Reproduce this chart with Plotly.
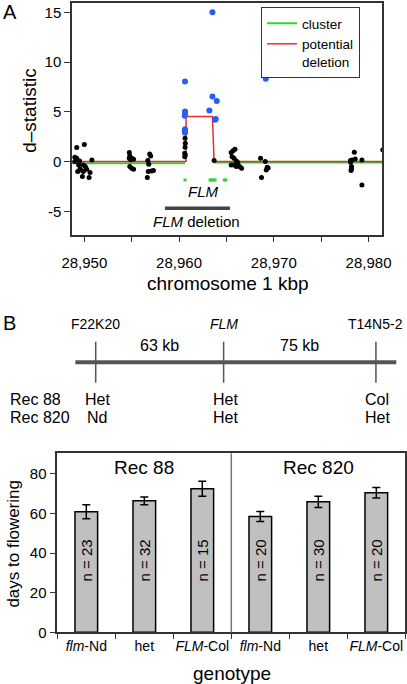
import plotly.graph_objects as go

# ---------------- Panel A data ----------------
black_x = [28949.2, 28950.0, 28949.0, 28949.2, 28949.0, 28949.5, 28949.4, 28949.9, 28950.1, 28950.8,
           28949.3, 28949.6, 28949.9, 28950.25, 28950.6, 28949.8, 28950.5, 28949.55,
           28954.75, 28954.8, 28955.0, 28954.75, 28955.2, 28954.8, 28955.2, 28955.0, 28954.9,
           28956.9, 28957.0, 28956.7, 28956.8, 28957.1, 28956.75, 28956.65, 28957.3,
           28960.63, 28960.66, 28960.63, 28960.6, 28960.66, 28960.6,
           28963.7,
           28965.9, 28965.7, 28965.5, 28965.6, 28965.8, 28966.05, 28966.2, 28965.8, 28966.4, 28966.05, 28966.6, 28965.5,
           28968.6, 28969.3, 28969.2, 28968.7, 28969.1, 28969.4,
           28978.5, 28978.6, 28978.25, 28978.1, 28978.2, 28978.2, 28978.15, 28979.3, 28979.3, 28978.1,
           28981.5]
black_y = [1.41, 1.71, 0.44, 0.34, 0.02, 0.05, -0.33, -0.33, -0.5, 0.17,
           -1.0, -0.84, -1.0, -0.77, -1.1, -1.5, -1.6, -0.75,
           0.91, 0.57, 0.34, 0.34, 0.24, -0.5, -0.77, -0.67, 0.2,
           0.77, 0.57, 0.1, -0.27, -0.94, -1.0, -1.6, -0.9,
           2.35, 1.85, 1.45, 0.84, 0.67, 0.5,
           0.1,
           1.25, 1.08, 0.91, 0.5, 0.34, 0.07, -0.1, -0.33, -0.5, -0.5, -0.67, -0.35,
           0.34, -0.57, -0.84, -1.6, 0.0, -0.65,
           0.94, 0.27, 0.17, -0.06, -0.5, -0.77, -0.9, 0.17, -2.34, 0.1,
           1.18]

blue_x = [28960.63, 28960.63, 28960.63, 28960.6, 28960.63, 28960.6, 28960.63,
          28963.52, 28963.52, 28963.98, 28963.2, 28963.87, 28963.8, 28969.15]
blue_y = [8.05, 5.03, 4.8, 4.6, 3.26, 3.1, 2.9,
          15.0, 6.54, 6.1, 5.13, 4.27, 4.2, 8.32]

deletion_x = [28948.7, 28960.74, 28960.74, 28963.52, 28963.7, 28981.42]
deletion_y = [0.0, 0.0, 4.53, 4.53, 0.0, 0.0]

cluster_x = [28948.7, 28960.63, None, 28963.7, 28981.42]
cluster_y = [-0.17, -0.17, None, -0.1, -0.1]

exon_x = [28960.63, 28963.27, 28963.45, 28963.62, 28963.8, 28964.78, 28964.93]
exon_y = [-1.84] * len(exon_x)

flm_del_x = [28958.51, 28965.37]
flm_del_y = [-4.69, -4.69]

x_ticks_a = [28950, 28960, 28970, 28980]
x_ticklabels_a = ["28,950", "28,960", "28,970", "28,980"]
y_ticks_a = [-5, 0, 5, 10, 15]
y_ticklabels_a = ["-5", "0", "5", "10", "15"]

# ---------------- Panel B map data ----------------
marker_names = ["F22K20", "<i>FLM</i>", "T14N5-2"]
marker_pos = [0, 63, 138]
interval_labels = ["63 kb", "75 kb"]
rec_names = ["Rec 88", "Rec 820"]
rec_genotypes = [["Het", "Het", "Col"], ["Nd", "Het", "Het"]]

# ---------------- Panel B bar data ----------------
bar_labels = ["<i>flm</i>-Nd", "het", "<i>FLM</i>-Col", "<i>flm</i>-Nd", "het", "<i>FLM</i>-Col"]
days = [60.8, 66.3, 72.4, 58.4, 65.8, 70.4]
days_err = [3.5, 2.0, 3.8, 2.5, 2.8, 2.6]
n_counts = [23, 32, 15, 20, 30, 20]
group_names = ["Rec 88", "Rec 820"]

FONT = "Liberation Sans, Arial, Helvetica, sans-serif"
AX = "#333333"
W, H = 407, 684

def px(xp):
    return xp / W

def py(yp):
    return 1 - yp / H

fig = go.Figure()

# Panel A traces
fig.add_trace(go.Scatter(x=cluster_x, y=cluster_y, mode="lines", name="cluster",
                         line=dict(color="#2fd62f", width=2), xaxis="x", yaxis="y"))
fig.add_trace(go.Scatter(x=deletion_x, y=deletion_y, mode="lines", name="potential<br>deletion",
                         line=dict(color="#ec2a30", width=1.5), xaxis="x", yaxis="y"))
fig.add_trace(go.Scatter(x=black_x, y=black_y, mode="markers", showlegend=False,
                         marker=dict(color="black", size=5), xaxis="x", yaxis="y"))
fig.add_trace(go.Scatter(x=blue_x, y=blue_y, mode="markers", showlegend=False,
                         marker=dict(color="#2a5cf0", size=6), xaxis="x", yaxis="y"))
fig.add_trace(go.Scatter(x=exon_x, y=exon_y, mode="markers", showlegend=False,
                         marker=dict(color="#2fd62f", size=3, symbol="square"), xaxis="x", yaxis="y"))
fig.add_trace(go.Scatter(x=flm_del_x, y=flm_del_y, mode="lines", showlegend=False,
                         line=dict(color="#444444", width=3.5), xaxis="x", yaxis="y"))

# Panel B map (hidden axes x3/y3)
line_x = [marker_pos[0] - 10, marker_pos[-1] + 10]
fig.add_trace(go.Scatter(x=line_x, y=[57.3, 57.3], mode="lines", showlegend=False,
                         line=dict(color="#555555", width=4), xaxis="x3", yaxis="y3"))
tx, ty = [], []
for p in marker_pos:
    tx += [p, p, None]
    ty += [36.7, 77.7, None]
fig.add_trace(go.Scatter(x=tx, y=ty, mode="lines", showlegend=False,
                         line=dict(color="#555555", width=1.5), xaxis="x3", yaxis="y3"))

# Panel B bars
fig.add_trace(go.Bar(x=list(range(len(days))), y=days, width=0.39, showlegend=False,
                     marker=dict(color="#c0c0c0", line=dict(color="black", width=1.5)),
                     error_y=dict(type="data", array=days_err, color="black", thickness=1.5, width=4),
                     xaxis="x2", yaxis="y2"))

C = dict(xanchor="center", yanchor="middle", showarrow=False)
ann = []
# Panel letters
ann.append(dict(text="A", x=px(10), y=py(12.5), xref="paper", yref="paper",
                font=dict(size=20, color="black"), **C))
ann.append(dict(text="B", x=px(9.2), y=py(323.3), xref="paper", yref="paper",
                font=dict(size=20, color="black"), **C))
# Panel A titles
ann.append(dict(text="d–statistic", x=px(30), y=py(110.8), xref="paper", yref="paper",
                textangle=-90, font=dict(size=19, color="black"), **C))
ann.append(dict(text="chromosome 1 kbp", x=px(228.3), y=py(283.3), xref="paper", yref="paper",
                font=dict(size=19, color="black"), **C))
ann.append(dict(text="<i>FLM</i>", x=28962.6, y=-3.0, xref="x", yref="y",
                font=dict(size=15, color="black"), **C))
ann.append(dict(text="<i>FLM</i> deletion", x=28961.8, y=-6.0, xref="x", yref="y",
                font=dict(size=15, color="black"), **C))
# Map labels
for name, p in zip(marker_names, marker_pos):
    ann.append(dict(text=name, x=p, y=19.3, xref="x3", yref="y3",
                    font=dict(size=14, color="black"), **C))
for i, lab in enumerate(interval_labels):
    ann.append(dict(text=lab, x=(marker_pos[i] + marker_pos[i + 1]) / 2, y=40, xref="x3", yref="y3",
                    font=dict(size=16, color="black"), **C))
row_y = [94, 112.3]
for r, (rn, gts) in enumerate(zip(rec_names, rec_genotypes)):
    ann.append(dict(text=rn, x=px(8.3), y=row_y[r], xref="paper", yref="y3", xanchor="left",
                    yanchor="middle", showarrow=False, font=dict(size=16, color="black")))
    for g, p in zip(gts, marker_pos):
        ann.append(dict(text=g, x=p + 0.7, y=row_y[r], xref="x3", yref="y3",
                        font=dict(size=16, color="black"), **C))
# Bar panel labels
for i, n in enumerate(n_counts):
    ann.append(dict(text=f"n = {n}", x=i, y=36.4, xref="x2", yref="y2",
                    textangle=-90, font=dict(size=15, color="black"), **C))
for gi, gname in enumerate(group_names):
    ann.append(dict(text=gname, x=gi * 3 + 1, y=82.9, xref="x2", yref="y2",
                    font=dict(size=19, color="black"), **C))
ann.append(dict(text="days to flowering", x=px(13.3), y=py(543.3), xref="paper", yref="paper",
                textangle=-90, font=dict(size=17, color="black"), **C))
ann.append(dict(text="genotype", x=px(232.3), y=py(673.3), xref="paper", yref="paper",
                font=dict(size=19, color="black"), **C))

shapes = [dict(type="line", xref="x2", yref="y2 domain", x0=2.5, x1=2.5, y0=0, y1=1,
               line=dict(color="#777777", width=1.5))]

fig.update_layout(
    template="none",
    width=W, height=H, margin=dict(l=0, r=0, t=0, b=0, pad=0, autoexpand=False),
    paper_bgcolor="white", plot_bgcolor="white",
    font=dict(family=FONT, color="black"),
    showlegend=True,
    legend=dict(x=px(261), y=py(7), xanchor="left", yanchor="top", bgcolor="white",
                bordercolor=AX, borderwidth=1, font=dict(size=13.5), valign="top",
                itemwidth=30, tracegroupgap=0),
    xaxis=dict(domain=[px(72), px(382)], range=[28948.7, 28981.42], showgrid=False, zeroline=False,
               automargin=False,
               showline=True, mirror=True, linecolor=AX, linewidth=1.5,
               tickvals=x_ticks_a, ticktext=x_ticklabels_a, ticks="outside", ticklen=5,
               tickwidth=1, tickcolor=AX, tickfont=dict(size=15),
               minor=dict(dtick=5, tick0=28950, ticks="outside", ticklen=5, tickwidth=1, tickcolor=AX),
               ticklabelstandoff=8, anchor="y"),
    yaxis=dict(domain=[py(235), py(3.3)], range=[-7.37, 15.9], showgrid=False, zeroline=False,
               automargin=False,
               showline=True, mirror=True, linecolor=AX, linewidth=1.5,
               tickvals=y_ticks_a, ticktext=y_ticklabels_a, ticks="outside", ticklen=6,
               tickwidth=1, tickcolor=AX, tickfont=dict(size=15), anchor="x"),
    xaxis2=dict(domain=[px(57.3), px(405.3)], range=[-0.5, 5.5], showgrid=False, zeroline=False,
                automargin=False,
                showline=True, mirror=True, linecolor=AX, linewidth=1.5,
                tickvals=list(range(len(bar_labels))), ticktext=bar_labels, ticks="",
                tickfont=dict(size=14),
                minor=dict(tick0=0.5, dtick=1, ticks="outside", ticklen=5, tickwidth=1, tickcolor=AX),
                anchor="y2"),
    yaxis2=dict(domain=[py(632.3), py(453.3)], range=[0, 90.3], showgrid=False, zeroline=False,
                automargin=False,
                showline=True, mirror=True, linecolor=AX, linewidth=1.5,
                tickvals=[0, 20, 40, 60, 80], ticks="outside", ticklen=6, tickwidth=1,
                tickcolor=AX, tickfont=dict(size=15), anchor="x2"),
    xaxis3=dict(domain=[0, 1], range=[-47.12, 153.3], visible=False, automargin=False, anchor="y3"),
    yaxis3=dict(domain=[py(430), py(305)], range=[125, 0], visible=False, automargin=False, anchor="x3"),
    annotations=ann, shapes=shapes,
)

fig.write_html("out.html",
               config={"displayModeBar": False},
               post_script="document.body.style.margin='0px';document.body.style.padding='0px';"
                           "document.documentElement.style.overflow='hidden';")
